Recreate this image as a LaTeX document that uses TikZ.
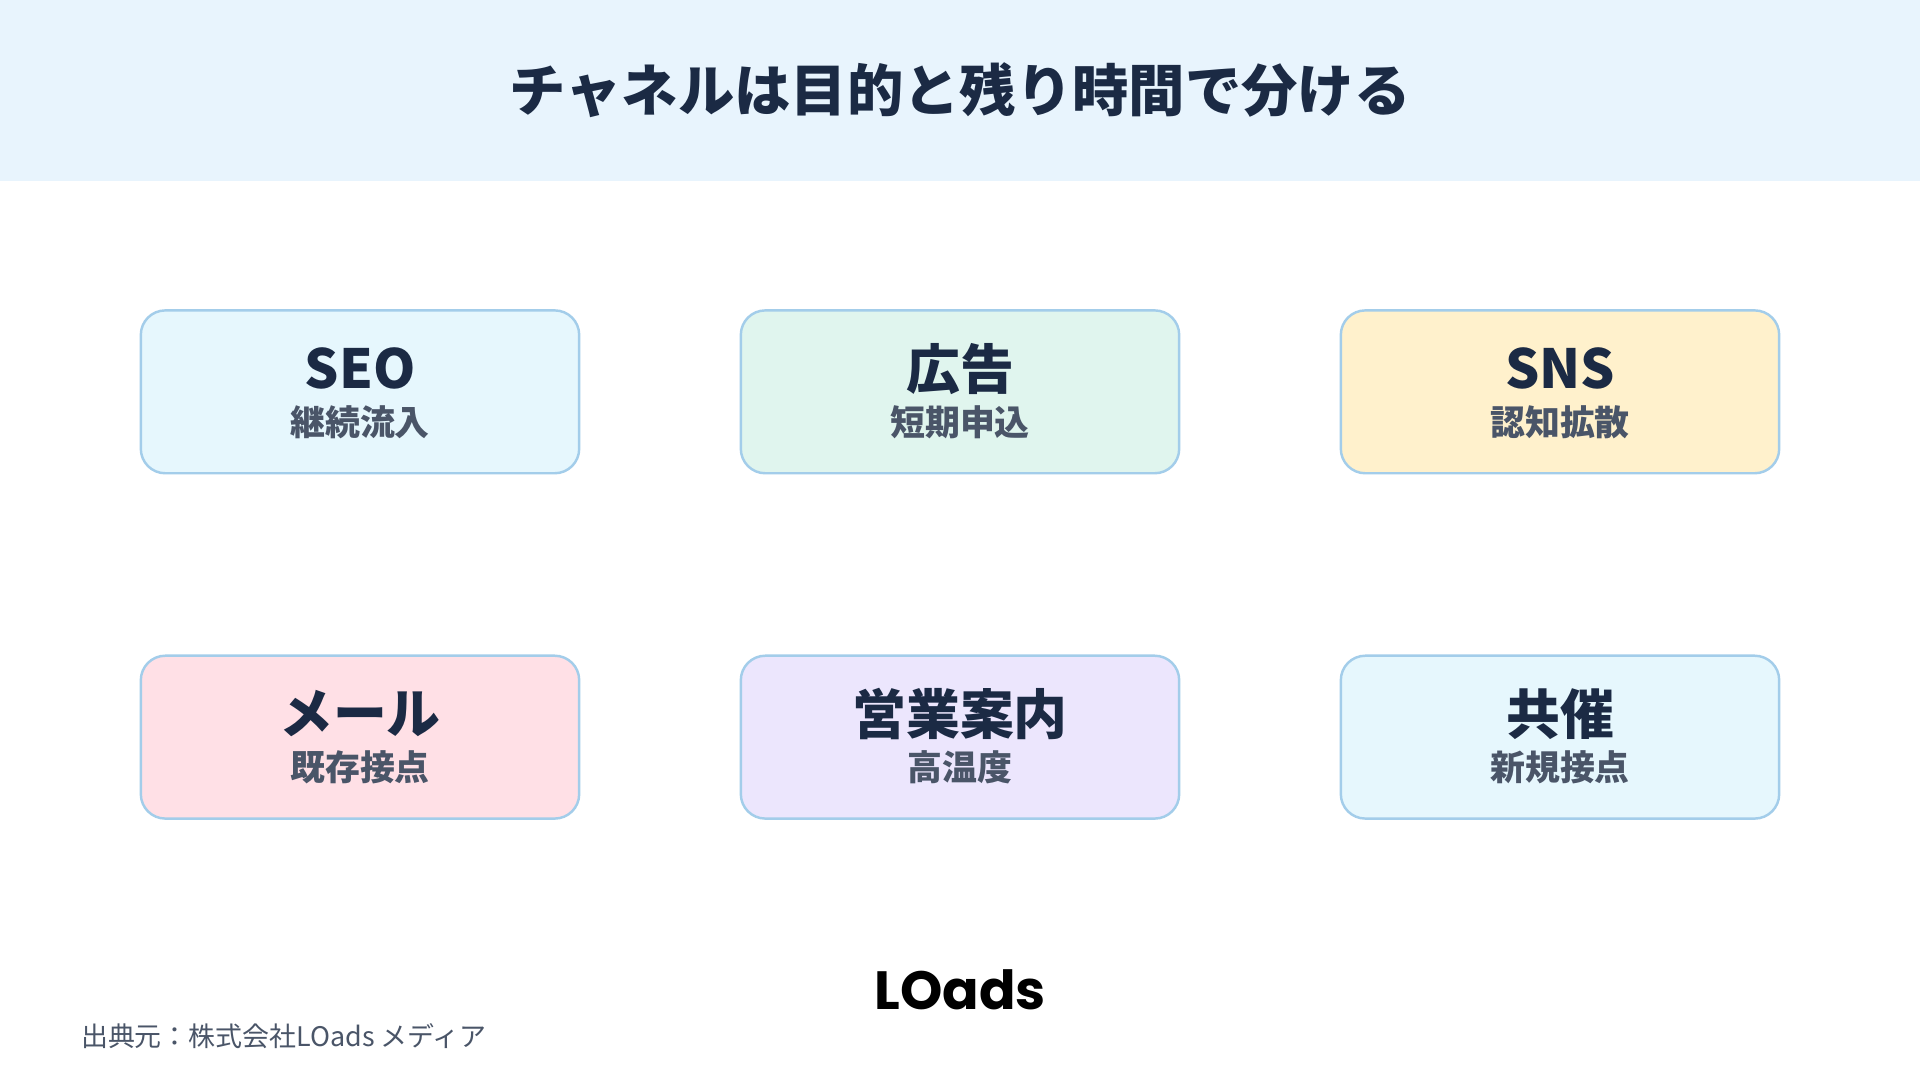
\documentclass[tikz,border=0pt]{standalone}
\usepackage{fontspec}
\setmainfont{Noto Sans CJK JP}
\newfontfamily\logofont{Poppins}[BoldFont={* Bold}]
\definecolor{hdr}{HTML}{E8F4FD}
\definecolor{navy}{HTML}{1B2A44}
\definecolor{sub}{HTML}{4A5568}
\definecolor{bord}{HTML}{A3CDEA}
\definecolor{fA}{HTML}{E6F7FD}
\definecolor{fB}{HTML}{E0F5EE}
\definecolor{fC}{HTML}{FFF1CC}
\definecolor{fD}{HTML}{FFE0E6}
\definecolor{fE}{HTML}{ECE6FD}
\begin{document}
\begin{tikzpicture}[x=1pt,y=-1pt,
  card/.style={draw=bord,line width=2pt,rounded corners=20pt,minimum width=358pt,minimum height=133pt,inner sep=0pt},
  ttl/.style={font=\fontsize{44}{48}\selectfont\bfseries,text=navy,inner sep=0pt},
  stl/.style={font=\fontsize{28.5}{32}\selectfont\bfseries,text=sub,inner sep=0pt}]
\useasboundingbox (0,0) rectangle (1568,882);
\fill[white] (0,0) rectangle (1568,882);
\fill[hdr] (0,0) rectangle (1568,148);
\node[font=\fontsize{46}{50}\selectfont\bfseries,text=navy] (title) at (784,74) {チャネルは目的と残り時間で分ける};
\foreach \n/\x/\y/\f/\a/\b in {c1/294/320/fA/SEO/継続流入, c2/784/320/fB/広告/短期申込, c3/1274/320/fC/SNS/認知拡散, c4/294/602/fD/メール/既存接点, c5/784/602/fE/営業案内/高温度, c6/1274/602/fA/共催/新規接点}{
  \node[card,fill=\f] (\n) at (\x,\y) {};
  \node[ttl] (\n t) at (\x,\y-19) {\a};
  \node[stl] (\n s) at (\x,\y+25) {\b};
}
\node[font=\logofont\fontsize{44}{48}\selectfont\bfseries,text=black] (logo) at (784,808) {LOads};
\node[anchor=west,font=\fontsize{22}{26}\selectfont,text=sub,inner sep=0pt] (src) at (66,846) {出典元：株式会社LOads メディア};
\end{tikzpicture}
\end{document}
